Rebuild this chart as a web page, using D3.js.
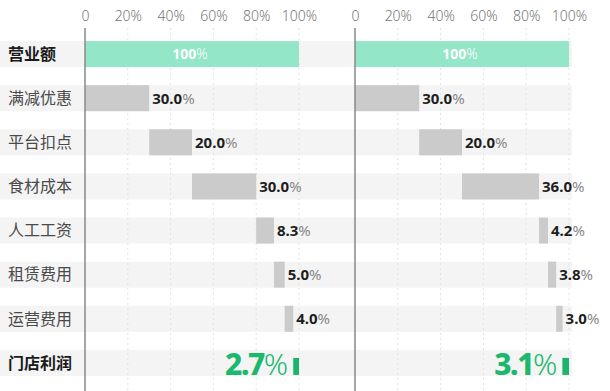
<!DOCTYPE html>
<html>
<head>
<meta charset="utf-8">
<script src="https://cdn.jsdelivr.net/npm/d3@7"></script>
<style>
  body { margin: 0; background: #fff; }
  svg text { font-family: "Noto Sans", "Noto Sans CJK SC", sans-serif; }
</style>
</head>
<body>
<div id="chart"></div>
<script>
// rows, top to bottom
var categories = ["营业额", "满减优惠", "平台扣点", "食材成本", "人工工资", "租赁费用", "运营费用", "门店利润"];
var boldRows = ["营业额", "门店利润"];

// cost shares (% of revenue), one array per panel
var costsLeft  = [30.0, 20.0, 30.0, 8.3, 5.0, 4.0];
var costsRight = [30.0, 20.0, 36.0, 4.2, 3.8, 3.0];
var profitLeft  = 2.7;
var profitRight = 3.1;
var revenue = 100;

var tickValues = [0, 20, 40, 60, 80, 100];

var W = 610, H = 391;

var svg = d3.select("#chart").append("svg")
    .attr("width", W)
    .attr("height", H);

var y = d3.scaleBand()
    .domain(categories)
    .range([32, 385])
    .paddingInner(0.41)
    .paddingOuter(0.205);

// row stripes
svg.append("g").selectAll("rect")
    .data(categories)
    .enter().append("rect")
    .attr("x", 0)
    .attr("width", 572)
    .attr("y", function(d) { return y(d); })
    .attr("height", y.bandwidth())
    .attr("fill", "#f4f4f4");

// category labels
svg.append("g").selectAll("text")
    .data(categories)
    .enter().append("text")
    .attr("x", 8)
    .attr("y", function(d) { return y(d) + y.bandwidth() / 2; })
    .attr("dy", "0.36em")
    .attr("font-family", "'Noto Sans CJK SC', sans-serif")
    .attr("font-size", 16)
    .attr("font-weight", function(d) { return boldRows.indexOf(d) >= 0 ? 700 : 400; })
    .attr("fill", function(d) { return boldRows.indexOf(d) >= 0 ? "#1a1a1a" : "#4a4a4a"; })
    .text(function(d) { return d; });

function drawPanel(x0, costs, profit) {
    var x = d3.scaleLinear().domain([0, 100]).range([x0, x0 + 214]);
    var g = svg.append("g");

    // dotted grid
    g.selectAll("line.grid")
        .data(tickValues.slice(1))
        .enter().append("line")
        .attr("class", "grid")
        .attr("x1", function(d) { return x(d); })
        .attr("x2", function(d) { return x(d); })
        .attr("y1", 28).attr("y2", H)
        .attr("stroke", "#e2e2e2")
        .attr("stroke-dasharray", "2,3");

    // axis labels on top
    var axis = d3.axisTop(x)
        .tickValues(tickValues)
        .tickSize(0)
        .tickPadding(0)
        .tickFormat(function(d) { return d === 0 ? "0" : d + "%"; });
    var ax = g.append("g")
        .attr("transform", "translate(0,21)")
        .call(axis);
    ax.select(".domain").remove();
    ax.selectAll("text")
        .attr("font-family", "'Noto Sans', sans-serif")
        .attr("font-size", 14)
        .attr("font-weight", 300)
        .attr("fill", "#777");

    // revenue bar
    var rowRev = categories[0];
    g.append("rect")
        .attr("x", x(0))
        .attr("width", x(revenue) - x(0))
        .attr("y", y(rowRev))
        .attr("height", y.bandwidth())
        .attr("fill", "#93e6c7");
    var rt = g.append("text")
        .attr("x", (x(0) + x(revenue)) / 2 - 2)
        .attr("y", y(rowRev) + y.bandwidth() / 2)
        .attr("dy", "0.36em")
        .attr("text-anchor", "middle")
        .attr("font-size", 14)
        .attr("fill", "#fff");
    rt.append("tspan").attr("font-weight", 700).text(revenue);
    rt.append("tspan").attr("font-weight", 300).text("%");

    // waterfall cost bars
    var start = 0;
    var items = costs.map(function(v, i) {
        var it = { cat: categories[i + 1], v: v, s: start };
        start += v;
        return it;
    });

    g.selectAll("rect.cost")
        .data(items)
        .enter().append("rect")
        .attr("class", "cost")
        .attr("x", function(d) { return x(d.s); })
        .attr("width", function(d) { return x(d.s + d.v) - x(d.s); })
        .attr("y", function(d) { return y(d.cat); })
        .attr("height", y.bandwidth())
        .attr("fill", "#cbcbcb");

    var lbl = g.selectAll("text.val")
        .data(items)
        .enter().append("text")
        .attr("class", "val")
        .attr("x", function(d) { return x(d.s + d.v) + 3; })
        .attr("y", function(d) { return y(d.cat) + y.bandwidth() / 2; })
        .attr("dy", "0.36em")
        .attr("font-size", 15);
    lbl.append("tspan").attr("font-weight", 700).attr("fill", "#1e1e1e")
        .text(function(d) { return d.v.toFixed(1); });
    lbl.append("tspan").attr("font-weight", 400).attr("fill", "#888").text("%");

    // profit
    var rowP = categories[categories.length - 1];
    var base = y(rowP) + y.bandwidth() / 2 + 12;
    g.append("rect")
        .attr("x", x(revenue - profit))
        .attr("width", x(revenue) - x(revenue - profit))
        .attr("y", base - 17)
        .attr("height", 17)
        .attr("fill", "#1bb46a");
    var pt = g.append("text")
        .attr("x", x(revenue - profit) - 5)
        .attr("y", base)
        .attr("text-anchor", "end")
        .attr("font-size", 30)
        .attr("fill", "#1cb86e");
    pt.append("tspan").attr("font-weight", 800).attr("letter-spacing", -1.5).text(profit.toFixed(1));
    pt.append("tspan").attr("font-weight", 300).text("%");

    // zero axis line
    g.append("line")
        .attr("x1", x(0)).attr("x2", x(0))
        .attr("y1", 28).attr("y2", H)
        .attr("stroke", "#888")
        .attr("stroke-width", 1.5);
}

drawPanel(85, costsLeft, profitLeft);
drawPanel(355, costsRight, profitRight);
</script>
</body>
</html>
